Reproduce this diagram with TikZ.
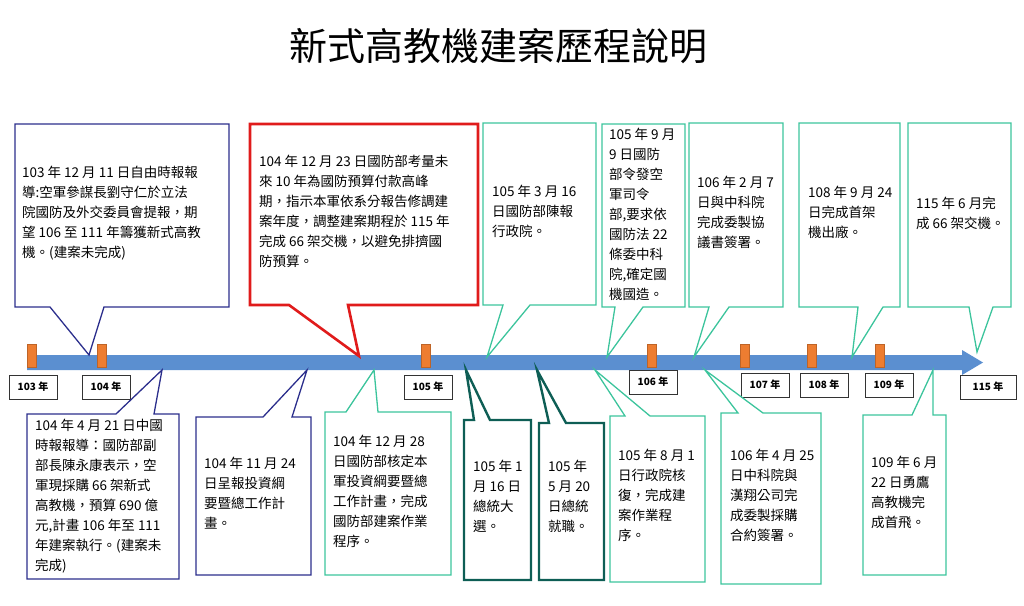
\documentclass[tikz,border=0pt]{standalone}
\usepackage{fontspec}
\setmainfont{Noto Sans CJK TC}
\definecolor{cblue}{HTML}{2B2E8C}
\definecolor{cred}{HTML}{E01B1B}
\definecolor{cteal}{HTML}{3CC49C}
\definecolor{cdark}{HTML}{0E5E55}
\definecolor{carrow}{HTML}{5B8FD0}
\definecolor{ctick}{HTML}{ED7D31}
\tikzset{
 txt/.style={anchor=north west,inner sep=0pt,align=left,font=\fontsize{13.5}{20}\selectfont},
 yearlab/.style={draw=black!80,line width=1pt,minimum width=48pt,minimum height=24pt,inner sep=0pt,font=\fontsize{10}{12}\selectfont\bfseries},
 tick/.style={fill=ctick,draw=ctick!80!black,line width=0.4pt},
}
\newcommand\calltop[9]{\draw[#1] (#2,#3)--(#4,#3)--(#4,#5)--(#7,#5)--#8--(#6,#5)--(#2,#5)--cycle;}
\newcommand\callbot[9]{\draw[#1] (#2,#3)--(#6,#3)--#8--(#7,#3)--(#4,#3)--(#4,#5)--(#2,#5)--cycle;}
\begin{document}
\begin{tikzpicture}[x=1pt,y=-1pt]
\useasboundingbox (0,0) rectangle (1024,605);
\node[font=\fontsize{38}{40}\selectfont] (title) at (498,46) {新式高教機建案歷程說明};
% arrow
\fill[carrow] (27,355) -- (962,355) -- (962,350) -- (983,362.5) -- (962,375) -- (962,370) -- (27,370) -- cycle;
% ticks
\foreach \x in {32,102,426,652,745,812,880}{\draw[tick] (\x-4.5,344) rectangle (\x+4.5,367);}
% year labels
\node[yearlab] (y103) at (33,387) {103 年};
\node[yearlab] (y104) at (106,387) {104 年};
\node[yearlab] (y105) at (428,387) {105 年};
\node[yearlab] (y106) at (653,382) {106 年};
\node[yearlab] (y107) at (765,385) {107 年};
\node[yearlab] (y108) at (824,385) {108 年};
\node[yearlab] (y109) at (889,385) {109 年};
\node[yearlab,minimum width=56pt] (y115) at (988,387) {115 年};
% top callouts
\calltop{cblue,line width=1.3pt}{15}{124}{229}{307}{50}{104}{(89,355)}{}
\calltop{cred,line width=2.6pt}{250}{124}{478}{305}{289}{348}{(359,356)}{}
\calltop{cteal,line width=1.3pt}{483}{123}{596}{305}{503}{530}{(487,357)}{}
\calltop{cteal,line width=1.3pt}{602}{124}{685}{307}{615}{643}{(607,357)}{}
\calltop{cteal,line width=1.3pt}{689}{123}{783}{307}{709}{729}{(694,357)}{}
\calltop{cteal,line width=1.3pt}{799}{123}{900}{307}{858}{883}{(852,357)}{}
\calltop{cteal,line width=1.3pt}{908}{123}{1011}{307}{969}{993}{(977,352)}{}
% bottom callouts
\callbot{cblue,line width=1.3pt}{27}{414}{179}{579}{116}{154}{(162,370)}{}
\callbot{cblue,line width=1.3pt}{196}{417}{311}{575}{263}{292}{(307,370)}{}
\callbot{cteal,line width=1.3pt}{325}{412}{451}{575}{346}{378}{(374,370)}{}
\callbot{cdark,line width=2.4pt}{464}{420}{531}{580}{474}{490}{(466,370)}{}
\callbot{cdark,line width=2.4pt}{539}{423}{604}{580}{549}{566}{(537,370)}{}
\callbot{cteal,line width=1.3pt}{610}{416}{705}{582}{625}{650}{(595,370)}{}
\callbot{cteal,line width=1.3pt}{721}{413}{821}{584}{738}{763}{(705,370)}{}
\callbot{cteal,line width=1.3pt}{863}{415}{946}{575}{912}{933}{(933,370)}{}
% texts
\node[txt] (t1) at (22,166) {103 年 12 月 11 日自由時報報\\導:空軍參謀長劉守仁於立法\\院國防及外交委員會提報，期\\望 106 至 111 年籌獲新式高教\\機。(建案未完成)};
\node[txt] (t2) at (259,155) {104 年 12 月 23 日國防部考量未\\來 10 年為國防預算付款高峰\\期，指示本軍依系分報告修調建\\案年度，調整建案期程於 115 年\\完成 66 架交機，以避免排擠國\\防預算。};
\node[txt] (t3) at (492,185) {105 年 3 月 16\\日國防部陳報\\行政院。};
\node[txt] (t4) at (609,128) {105 年 9 月\\9 日國防\\部令發空\\軍司令\\部,要求依\\國防法 22\\條委中科\\院,確定國\\機國造。};
\node[txt] (t5) at (697,176) {106 年 2 月 7\\日與中科院\\完成委製協\\議書簽署。};
\node[txt] (t6) at (808,186) {108 年 9 月 24\\日完成首架\\機出廠。};
\node[txt] (t7) at (916,197) {115 年 6 月完\\成 66 架交機。};
\node[txt] (b1) at (35,419) {104 年 4 月 21 日中國\\時報報導：國防部副\\部長陳永康表示，空\\軍現採購 66 架新式\\高教機，預算 690 億\\元,計畫 106 年至 111\\年建案執行。(建案未\\完成)};
\node[txt] (b2) at (204,457) {104 年 11 月 24\\日呈報投資綱\\要暨總工作計\\畫。};
\node[txt] (b3) at (333,435) {104 年 12 月 28\\日國防部核定本\\軍投資綱要暨總\\工作計畫，完成\\國防部建案作業\\程序。};
\node[txt] (b4) at (473,460) {105 年 1\\月 16 日\\總統大\\選。};
\node[txt] (b5) at (548,460) {105 年\\5 月 20\\日總統\\就職。};
\node[txt] (b6) at (618,449) {105 年 8 月 1\\日行政院核\\復，完成建\\案作業程\\序。};
\node[txt] (b7) at (730,449) {106 年 4 月 25\\日中科院與\\漢翔公司完\\成委製採購\\合約簽署。};
\node[txt] (b8) at (871,456) {109 年 6 月\\22 日勇鷹\\高教機完\\成首飛。};
\end{tikzpicture}
\end{document}
